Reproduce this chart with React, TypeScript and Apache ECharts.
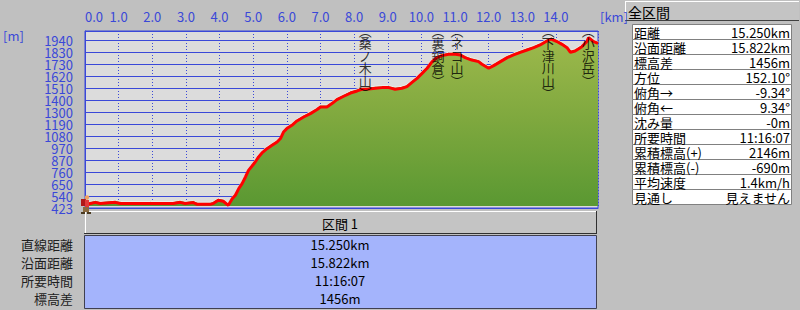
import React, { useEffect, useRef } from "react";
import * as echarts from "echarts";

// ---- data ----
const distKm = [0, 0.16, 0.31, 0.45, 0.9, 1.05, 1.94, 2.62, 2.83, 2.98, 3.22, 3.34, 3.72, 3.81, 3.96, 4.11, 4.26, 4.38, 4.47, 4.57, 4.67, 4.77, 4.86, 4.96, 5.06, 5.16, 5.26, 5.41, 5.56, 5.71, 5.81, 5.9, 6.0, 6.15, 6.3, 6.5, 6.7, 6.9, 7.0, 7.19, 7.34, 7.49, 7.69, 7.89, 8.09, 8.23, 8.43, 8.63, 8.83, 9.03, 9.22, 9.42, 9.57, 9.72, 9.87, 10.02, 10.17, 10.32, 10.46, 10.61, 10.81, 11.01, 11.16, 11.3, 11.5, 11.7, 11.8, 12.0, 12.15, 12.35, 12.55, 12.74, 12.94, 13.14, 13.34, 13.53, 13.73, 13.86, 14.03, 14.18, 14.33, 14.43, 14.57, 14.77, 14.92, 14.97, 15.12, 15.25];
const elevM = [450, 463, 474, 463, 474, 463, 463, 463, 474, 463, 472, 456, 456, 463, 493, 484, 447, 508, 538, 598, 643, 703, 763, 800, 838, 884, 920, 959, 989, 1019, 1050, 1109, 1140, 1170, 1209, 1245, 1275, 1312, 1335, 1335, 1366, 1402, 1432, 1461, 1480, 1495, 1498, 1504, 1510, 1510, 1495, 1504, 1519, 1558, 1594, 1639, 1685, 1745, 1781, 1799, 1811, 1811, 1805, 1781, 1759, 1745, 1721, 1685, 1709, 1745, 1781, 1805, 1829, 1850, 1871, 1895, 1931, 1949, 1926, 1901, 1871, 1829, 1841, 1880, 1926, 1962, 1926, 1910];

const xTickLabels = ["0.0", "1.0", "2.0", "3.0", "4.0", "5.0", "6.0", "7.0", "8.0", "9.0", "10.0", "11.0", "12.0", "13.0", "14.0"];
const yTickLabels = ["423", "540", "650", "760", "870", "970", "1080", "1190", "1300", "1400", "1510", "1620", "1730", "1830", "1940"];

const peakNames = ["桑ノ木山", "裏銅倉", "ネコ山", "下津川山", "小沢岳"];
const peakKm = [8.33, 10.49, 11.06, 13.77, 14.96];

const summaryLabels = ["距離", "沿面距離", "標高差", "方位", "俯角→", "俯角←", "沈み量", "所要時間", "累積標高(+)", "累積標高(-)", "平均速度", "見通し"];
const summaryValues = ["15.250km", "15.822km", "1456m", "152.10°", "-9.34°", "9.34°", "-0m", "11:16:07", "2146m", "-690m", "1.4km/h", "見えません"];

const sectionTitle = "区間 1";
const sectionLabels = ["直線距離", "沿面距離", "所要時間", "標高差"];
const sectionValues = ["15.250km", "15.822km", "11:16:07", "1456m"];

// ---- styling constants ----
const FONT = "'Noto Sans CJK JP', 'Noto Sans', sans-serif";
const BLUE = "#3a48d8";
const BASE = Number(yTickLabels[0]);
const STEP = 108.36; // metres per horizontal grid line
const YMAX = STEP * 14.75;
const DROP = 18; // terrain drawn slightly below the track

export default function App() {
  const ref = useRef<HTMLDivElement>(null);

  useEffect(() => {
    if (!ref.current) return;
    const chart = echarts.init(ref.current, undefined, { renderer: "svg" });

    const pts = distKm.map((d, i) => [d, elevM[i] - BASE]);

    const graphics: any[] = [];
    const txt = (x: number, y: number, text: string, opts: any = {}) => ({
      type: "text",
      x,
      y,
      style: {
        text,
        fill: opts.fill || "#000",
        font: `${opts.size || 13}px ${FONT}`,
        align: opts.align || "left",
        verticalAlign: "middle",
        lineHeight: opts.lh || 14,
      },
      z: 10,
    });

    graphics.push(txt(3, 35, "[m]", { fill: BLUE }));
    graphics.push(txt(600, 16, "[km]", { fill: BLUE }));

    // header "全区間"
    graphics.push({ type: "rect", shape: { x: 625, y: 1, width: 174, height: 20 }, style: { fill: "#c4c4c4" }, z: 5 });
    graphics.push({ type: "line", shape: { x1: 625, y1: 1.5, x2: 799, y2: 1.5 }, style: { stroke: "#ffffff", lineWidth: 1 }, z: 6 });
    graphics.push({ type: "line", shape: { x1: 625.5, y1: 1, x2: 625.5, y2: 21 }, style: { stroke: "#ffffff", lineWidth: 1 }, z: 6 });
    graphics.push({ type: "line", shape: { x1: 625, y1: 20.5, x2: 799, y2: 20.5 }, style: { stroke: "#404040", lineWidth: 1 }, z: 6 });
    graphics.push(txt(628, 11.5, "全区間", { size: 14 }));

    // summary table
    summaryLabels.forEach((lab, i) => {
      const y = 24 + i * 15;
      graphics.push({ type: "rect", shape: { x: 632.5, y: y + 0.5, width: 159, height: 15 }, style: { fill: "#ffffff", stroke: "#808080", lineWidth: 1 }, z: 5 });
      graphics.push(txt(634, y + 8, lab));
      graphics.push(txt(790, y + 8, summaryValues[i], { align: "right" }));
    });

    // section button
    graphics.push({ type: "rect", shape: { x: 84, y: 211, width: 513, height: 23 }, style: { fill: "#c4c4c4" }, z: 5 });
    graphics.push({ type: "line", shape: { x1: 84, y1: 211.5, x2: 597, y2: 211.5 }, style: { stroke: "#ffffff", lineWidth: 1 }, z: 6 });
    graphics.push({ type: "line", shape: { x1: 85.5, y1: 208, x2: 85.5, y2: 234 }, style: { stroke: "#ffffff", lineWidth: 1 }, z: 6 });
    graphics.push({ type: "line", shape: { x1: 84, y1: 233.5, x2: 597, y2: 233.5 }, style: { stroke: "#303030", lineWidth: 1 }, z: 6 });
    graphics.push({ type: "line", shape: { x1: 596.5, y1: 211, x2: 596.5, y2: 234 }, style: { stroke: "#303030", lineWidth: 1 }, z: 6 });
    graphics.push(txt(340, 223, sectionTitle, { align: "center" }));

    // section blue panel
    graphics.push({ type: "rect", shape: { x: 84.5, y: 235.5, width: 512, height: 73 }, style: { fill: "#a4b4fc", stroke: "#404050", lineWidth: 1 }, z: 5 });
    sectionLabels.forEach((lab, i) => {
      const y = 244.5 + i * 18;
      graphics.push(txt(73, y, lab, { align: "right", fill: "#202020" }));
      graphics.push(txt(340, y, sectionValues[i], { align: "center" }));
    });

    // hiker icon
    graphics.push({ type: "rect", shape: { x: 81, y: 199, width: 5, height: 7 }, style: { fill: "#b01818" }, z: 12 });
    graphics.push({ type: "rect", shape: { x: 85, y: 200, width: 4, height: 7 }, style: { fill: "#e03a3a" }, z: 12 });
    graphics.push({ type: "circle", shape: { cx: 87, cy: 197.5, r: 2.2 }, style: { fill: "#f0a060" }, z: 12 });
    graphics.push({ type: "rect", shape: { x: 83, y: 207, width: 6, height: 5 }, style: { fill: "#8a6a40" }, z: 12 });
    graphics.push({ type: "rect", shape: { x: 81, y: 212, width: 4, height: 2 }, style: { fill: "#4a3a20" }, z: 12 });
    graphics.push({ type: "rect", shape: { x: 87, y: 212, width: 4, height: 2 }, style: { fill: "#4a3a20" }, z: 12 });

    const yLabelFormatter = (skipMin: boolean) => (v: number) => {
      const i = Math.round(v / STEP);
      if (Math.abs(v / STEP - i) > 0.01) return "";
      if (skipMin && i === 0) return "";
      if (!skipMin && i !== 0) return "";
      return yTickLabels[i] || "";
    };

    chart.setOption({
      animation: false,
      backgroundColor: "#c0c0c0",
      textStyle: { fontFamily: FONT },
      grid: {
        left: 85,
        top: 31,
        width: 513,
        height: 177,
        show: true,
        backgroundColor: "#dcdcdc",
        borderColor: BLUE,
        borderWidth: 1,
      },
      xAxis: {
        type: "value",
        position: "top",
        min: 0,
        max: 15.25,
        interval: 1,
        axisLine: { show: true, lineStyle: { color: BLUE, width: 1 } },
        axisTick: { show: false },
        splitLine: { show: true, lineStyle: { color: BLUE, type: [1, 2], width: 1 } },
        axisLabel: {
          color: BLUE,
          fontSize: 13,
          fontFamily: FONT,
          margin: 8,
          alignMinLabel: "left",
          showMinLabel: true,
          showMaxLabel: false,
          formatter: (v: number) => {
            const i = Math.round(v);
            return Math.abs(v - i) < 1e-6 && xTickLabels[i] ? xTickLabels[i] : "";
          },
        },
      },
      yAxis: [
        {
          type: "value",
          position: "left",
          min: 0,
          max: YMAX,
          interval: STEP,
          axisLine: { show: true, lineStyle: { color: BLUE, width: 1 } },
          axisTick: { show: true, inside: true, length: 4, lineStyle: { color: BLUE } },
          splitLine: { show: true, lineStyle: { color: BLUE, width: 1 } },
          axisLabel: {
            color: BLUE,
            fontSize: 13,
            fontFamily: FONT,
            margin: 12,
            showMinLabel: false,
            showMaxLabel: false,
            formatter: yLabelFormatter(true),
          },
        },
        {
          type: "value",
          show: false,
          min: -DROP,
          max: YMAX - DROP,
          splitLine: { show: false },
        },
        {
          type: "value",
          position: "left",
          min: 0,
          max: YMAX,
          interval: STEP,
          axisLine: { show: false },
          axisTick: { show: false },
          splitLine: { show: false },
          axisLabel: {
            color: BLUE,
            fontSize: 13,
            fontFamily: FONT,
            margin: 12,
            showMinLabel: true,
            showMaxLabel: false,
            formatter: yLabelFormatter(false),
          },
        },
      ],
      graphic: graphics,
      series: [
        {
          type: "line",
          yAxisIndex: 1,
          data: pts,
          showSymbol: false,
          lineStyle: { color: "#f0f0f0", width: 1 },
          areaStyle: {
            opacity: 1,
            color: new echarts.graphic.LinearGradient(0, 0, 0, 1, [
              { offset: 0, color: "#9eb94c" },
              { offset: 0.5, color: "#7ea83e" },
              { offset: 1, color: "#5a9832" },
            ]),
          },
          z: 2,
          silent: true,
        },
        {
          type: "line",
          yAxisIndex: 0,
          data: pts,
          showSymbol: false,
          lineStyle: { color: "#ff0000", width: 3 },
          z: 3,
          silent: true,
        },
        {
          type: "scatter",
          yAxisIndex: 0,
          symbolSize: 0,
          data: peakNames.map((n, i) => ({ name: n, value: [peakKm[i], YMAX] })),
          label: {
            show: true,
            position: "bottom",
            distance: -7,
            color: "#000",
            fontSize: 13,
            lineHeight: 12.5,
            fontFamily: FONT,
            formatter: (p: any) => "︵\n" + p.name.split("").join("\n") + "\n︶",
          },
          z: 4,
          silent: true,
        },
      ],
    });

    return () => chart.dispose();
  }, []);

  return (
    <div
      ref={ref}
      style={{ position: "fixed", left: 0, top: 0, width: 800, height: 310 }}
    />
  );
}
